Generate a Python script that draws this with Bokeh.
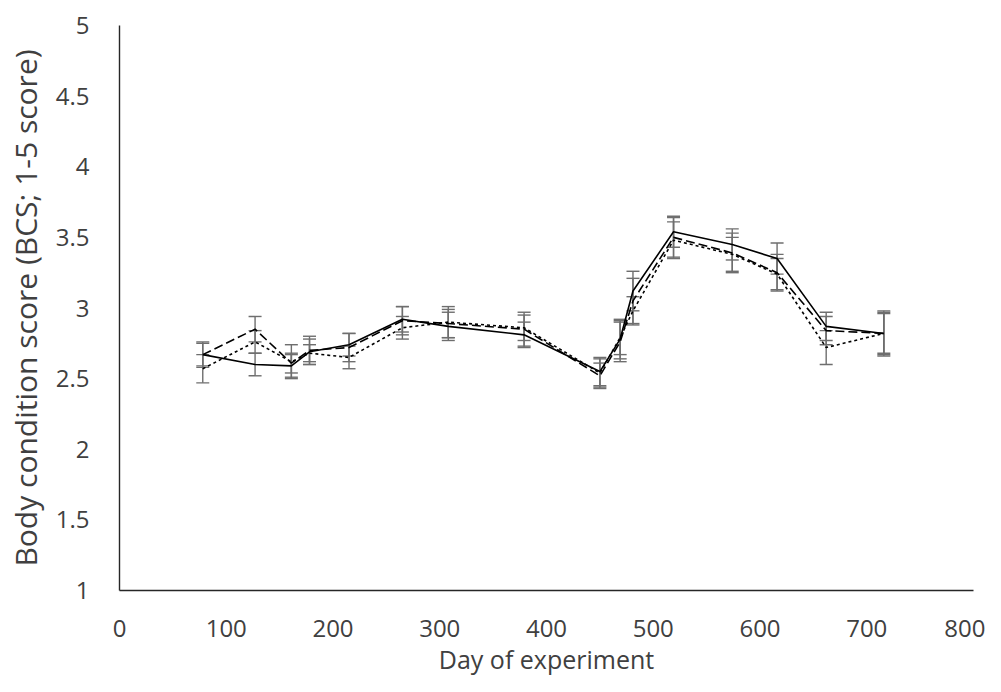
from bokeh.plotting import figure
from bokeh.models import Whisker, ColumnDataSource, FixedTicker, TeeHead, Range1d
from bokeh.embed import file_html
from bokeh.resources import INLINE

days = [78, 127, 161, 178, 215, 265, 308, 379, 450, 469, 481, 519, 574, 616, 662, 716]

solid = [2.67, 2.60, 2.59, 2.69, 2.74, 2.92, 2.87, 2.81, 2.55, 2.78, 3.12, 3.54, 3.45, 3.35, 2.87, 2.82]
solid_err = [0.08, 0.08, 0.08, 0.09, 0.08, 0.09, 0.10, 0.09, 0.10, 0.14, 0.14, 0.11, 0.11, 0.11, 0.10, 0.15]

long_dash = [2.67, 2.85, 2.61, 2.70, 2.72, 2.91, 2.89, 2.85, 2.52, 2.76, 3.05, 3.50, 3.39, 3.25, 2.84, 2.82]
long_dash_err = [0.09, 0.09, 0.07, 0.10, 0.10, 0.10, 0.10, 0.12, 0.09, 0.14, 0.16, 0.14, 0.14, 0.13, 0.10, 0.14]

short_dash = [2.57, 2.76, 2.62, 2.68, 2.65, 2.86, 2.90, 2.86, 2.54, 2.79, 2.98, 3.48, 3.38, 3.24, 2.72, 2.82]
short_dash_err = [0.10, 0.08, 0.12, 0.06, 0.08, 0.08, 0.11, 0.09, 0.10, 0.12, 0.10, 0.13, 0.12, 0.11, 0.12, 0.16]

x_ticks = [0, 100, 200, 300, 400, 500, 600, 700, 800]
y_ticks = [1, 1.5, 2, 2.5, 3, 3.5, 4, 4.5, 5]
y_tick_labels = ["1", "1.5", "2", "2.5", "3", "3.5", "4", "4.5", "5"]

x_title = "Day of experiment"
y_title = "Body condition score (BCS; 1-5 score)"

FONT = "Open Sans"
TXT = "#404040"
ERR = "#6e6e6e"

p = figure(width=985, height=684, output_backend="svg", toolbar_location=None,
           x_range=Range1d(0, 800), y_range=Range1d(1, 5),
           min_border_left=119, min_border_right=12, min_border_top=25, min_border_bottom=94)
p.outline_line_color = None
p.xgrid.visible = False
p.ygrid.visible = False

series = [
    (solid, solid_err, None),
    (long_dash, long_dash_err, "9 4"),
    (short_dash, short_dash_err, "3 3"),
]

for vals, errs, dash in series:
    src = ColumnDataSource(dict(x=days, y=vals,
                                lo=[v - e for v, e in zip(vals, errs)],
                                hi=[v + e for v, e in zip(vals, errs)]))
    w = Whisker(source=src, base="x", upper="hi", lower="lo",
                line_color=ERR, line_width=1.4,
                upper_head=TeeHead(size=13, line_color=ERR, line_width=1.4),
                lower_head=TeeHead(size=13, line_color=ERR, line_width=1.4))
    p.add_layout(w)

for vals, errs, dash in series:
    kw = dict(line_color="black", line_width=1.6)
    if dash:
        kw["line_dash"] = dash
    p.line(days, vals, **kw)

for ax in (p.xaxis[0], p.yaxis[0]):
    ax.axis_line_color = "#262626"
    ax.axis_line_width = 1.4
    ax.major_tick_line_color = None
    ax.minor_tick_line_color = None
    ax.major_label_text_font = FONT
    ax.major_label_text_color = TXT
    ax.major_label_text_font_size = "24px"
    ax.axis_label_text_font = FONT
    ax.axis_label_text_color = TXT
    ax.axis_label_text_font_style = "normal"

p.xaxis.ticker = FixedTicker(ticks=x_ticks)
p.yaxis.ticker = FixedTicker(ticks=y_ticks)
p.yaxis.major_label_overrides = {t: l for t, l in zip(y_ticks, y_tick_labels)}
p.xaxis.major_label_standoff = 23
p.yaxis.major_label_standoff = 24
p.xaxis.axis_label = x_title
p.yaxis.axis_label = y_title
p.xaxis.axis_label_text_font_size = "25px"
p.yaxis.axis_label_text_font_size = "30px"
p.xaxis.axis_label_standoff = 2
p.yaxis.axis_label_standoff = 7

open("out.html", "w").write(file_html(p, INLINE))
